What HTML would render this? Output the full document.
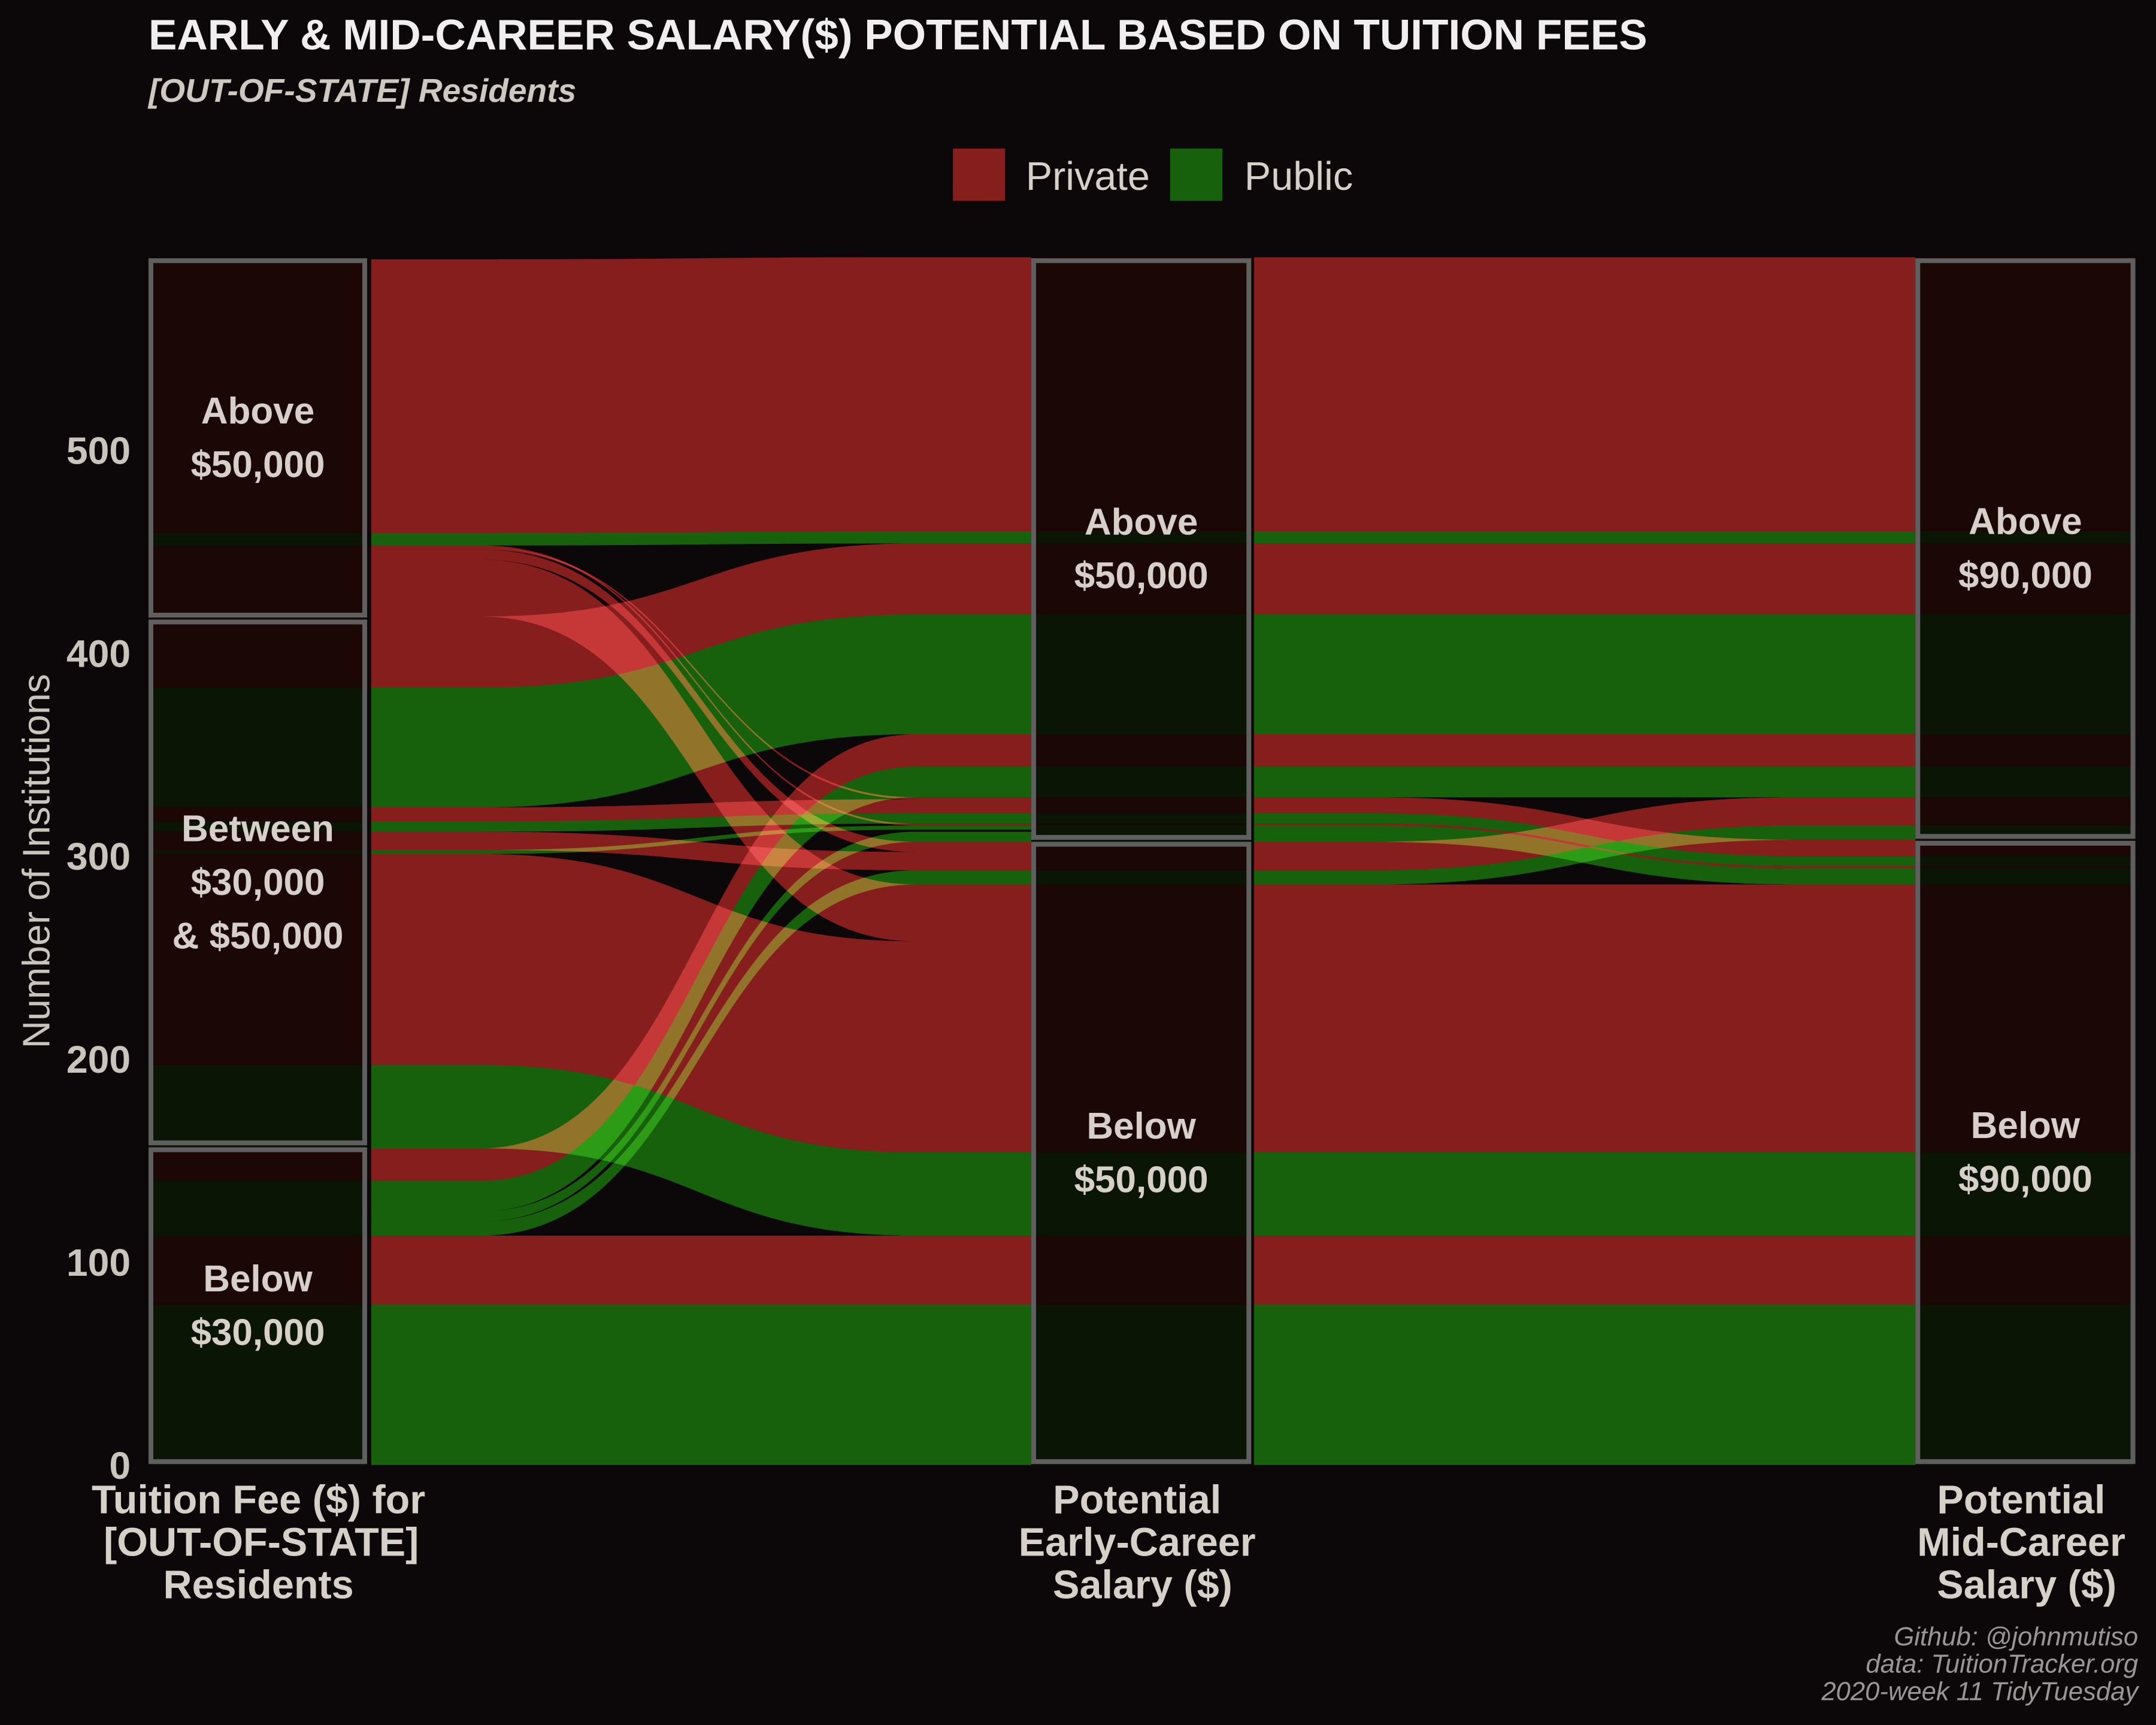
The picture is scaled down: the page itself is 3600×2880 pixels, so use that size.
<!DOCTYPE html>
<html><head><meta charset="utf-8"><title>Alluvial chart</title>
<style>
html,body{margin:0;padding:0;background:#0c0708;}
svg{display:block;}
text{font-family:"Liberation Sans",Arial,sans-serif;}
.flow{mix-blend-mode:screen;}
</style></head>
<body>
<svg id="chart" xmlns="http://www.w3.org/2000/svg" width="3600" height="2880" viewBox="0 0 1568 1254" preserveAspectRatio="none">
<rect x="0" y="0" width="1568" height="1254" fill="#0c0708"/>
<text x="108" y="36" font-size="31" font-weight="bold" fill="#f0eeee">EARLY &amp; MID-CAREER SALARY($) POTENTIAL BASED ON TUITION FEES</text>
<text x="108" y="74" font-size="24" font-weight="bold" font-style="italic" fill="#cfc8c0">[OUT-OF-STATE] Residents</text>
<g>
<rect x="693" y="108" width="38" height="38" fill="#861e1e"/>
<text x="746" y="138" font-size="29" fill="#d6d0c8">Private</text>
<rect x="851" y="108" width="38" height="38" fill="#17600c"/>
<text x="905" y="138" font-size="29" fill="#d6d0c8">Public</text>
</g>
<g id="stripes"></g>
<g id="flows" style="isolation:isolate"></g>
<g id="strata"></g>
<g id="yaxis"></g>
<text transform="translate(36,626) rotate(-90)" text-anchor="middle" font-size="28" fill="#c9c4bc">Number of Institutions</text>
<g font-size="29" font-weight="bold" fill="#d6d0c8" text-anchor="middle">
<text x="188" y="1100"><tspan x="188">Tuition Fee ($) for</tspan><tspan x="190" dy="31">[OUT-OF-STATE]</tspan><tspan x="188" dy="31">Residents</tspan></text>
<text x="827" y="1100"><tspan x="827">Potential</tspan><tspan x="827" dy="31">Early-Career</tspan><tspan x="831" dy="31">Salary ($)</tspan></text>
<text x="1470" y="1100"><tspan x="1470">Potential</tspan><tspan x="1470" dy="31">Mid-Career</tspan><tspan x="1474" dy="31">Salary ($)</tspan></text>
</g>
<g font-size="19" font-style="italic" fill="#9a9696" text-anchor="end">
<text x="1555" y="1196">Github: @johnmutiso</text>
<text x="1555" y="1216">data: TuitionTracker.org</text>
<text x="1555" y="1236">2020-week 11 TidyTuesday</text>
</g>
</svg>
<script>
// ---- data (institution counts) ----
const yTicks = [0, 100, 200, 300, 400, 500];
const totalInstitutions = 595;
// flows tuition -> early career
const flow1Group = ['Public','Private','Public','Public','Public','Private','Public','Private','Public','Private','Public','Private','Public','Private','Private','Private','Private','Private','Public','Private'];
const flow1Start = [0,79,113,120,125,140,156,197,301,303,312,317,324,383,418,446,451,452,453,459];
const flow1End   = [0,79,286,307,329,344,113,154,313,293,316,321,360,419,258,302,328,315,454,460];
const flow1Count = [79,34,7,5,15,16,41,104,2,9,5,7,59,35,28,5,1,1,6,135];
// flows early career -> mid career
const flow2Group = ['Public','Private','Public','Private','Public','Private','Public','Private','Public','Private','Public','Private','Public','Private','Public','Private'];
const flow2Start = [0,79,113,154,286,293,307,315,316,321,329,344,360,419,454,460];
const flow2End   = [0,79,113,154,308,315,286,294,295,300,329,344,360,419,454,460];
const flow2Count = [79,34,41,132,7,14,8,1,5,8,15,16,59,35,6,135];
// strata
const strata1 = [[0,157,'Below','$30,000'],[157,417,'Between','$30,000','& $50,000'],[417,595,'Above','$50,000']];
const strata2 = [[0,307.5,'Below','$50,000'],[307.5,595,'Above','$50,000']];
const strata3 = [[0,308,'Below','$90,000'],[308,595,'Above','$90,000']];

// ---- scales ----
const Y0 = 1065, YTOP = 187;
function y(v){ return Y0 - v * (Y0 - YTOP) / totalInstitutions; }
const axisX = [[108,267],[750,910],[1393,1553]];
const NS = 'http://www.w3.org/2000/svg';
const colors = {Private:'#861e1e', Public:'#17600c'};
const darkColors = {Private:'#1c0707', Public:'#0a1506'};
function mk(tag, attrs, parent){ const e=document.createElementNS(NS,tag); for(const k in attrs) e.setAttribute(k,attrs[k]); parent.appendChild(e); return e; }

// ---- stripes inside strata ----
const stripes = document.getElementById('stripes');
function stripe(ax, v0, n, g){
  const r = mk('rect',{x:axisX[ax][0],y:y(v0+n),width:axisX[ax][1]-axisX[ax][0],height:y(v0)-y(v0+n),fill:darkColors[g]},stripes);
  
  
}
flow1Start.forEach((s,i)=>stripe(0,s,flow1Count[i],flow1Group[i]));
flow2Start.forEach((s,i)=>stripe(1,s,flow2Count[i],flow2Group[i]));
flow2End.forEach((s,i)=>stripe(2,s,flow2Count[i],flow2Group[i]));

// ---- flows ----
const flowsG = document.getElementById('flows');
function ribbon(xa, xb, xc, xd, s, e, n, g, name){
  const m=(xb+xc)/2;
  const t0=y(s+n), t1=y(e+n), b0=y(s), b1=y(e);
  const d=`M${xa},${t0} L${xb},${t0} C${m},${t0} ${m},${t1} ${xc},${t1} L${xd},${t1} L${xd},${b1} L${xc},${b1} C${m},${b1} ${m},${b0} ${xb},${b0} L${xa},${b0} Z`;
  const p = mk('path',{d:d,fill:colors[g],class:'flow'},flowsG);
  
  
}
flow1Start.forEach((s,i)=>ribbon(270,350,666,750,s,flow1End[i],flow1Count[i],flow1Group[i],'flow-tuition-to-early'));
flow2Start.forEach((s,i)=>ribbon(912,997,1308,1393,s,flow2End[i],flow2Count[i],flow2Group[i],'flow-early-to-mid'));

// ---- strata boxes & labels ----
const strataG = document.getElementById('strata');
function drawStrata(ax, list){
  list.forEach(st=>{
    const top=y(st[1])+2.5, bot=y(st[0])-2.5;
    const r = mk('rect',{x:axisX[ax][0]+1.75,y:top,width:axisX[ax][1]-axisX[ax][0]-3.5,height:bot-top,fill:'none',stroke:'#5f5f5f','stroke-width':3.5},strataG);
    
    
    const lines = st.slice(2);
    const cx=(axisX[ax][0]+axisX[ax][1])/2, cy=(y(st[0])+y(st[1]))/2;
    lines.forEach((ln,j)=>{
      const t = mk('text',{x:cx,y:cy+(j-(lines.length-1)/2)*39+9,'text-anchor':'middle','font-size':'27','font-weight':'bold',fill:'#d6d0c8'},strataG);
      t.textContent = ln;
      
      
    });
  });
}
drawStrata(0,strata1); drawStrata(1,strata2); drawStrata(2,strata3);

// ---- y axis ----
const yaxis = document.getElementById('yaxis');
yTicks.forEach(v=>{
  const t = mk('text',{x:95,y:y(v)+10,'text-anchor':'end','font-size':'28','font-weight':'bold',fill:'#c9c4bc'},yaxis);
  t.textContent = v;
  
  
});
</script>
</body></html>
